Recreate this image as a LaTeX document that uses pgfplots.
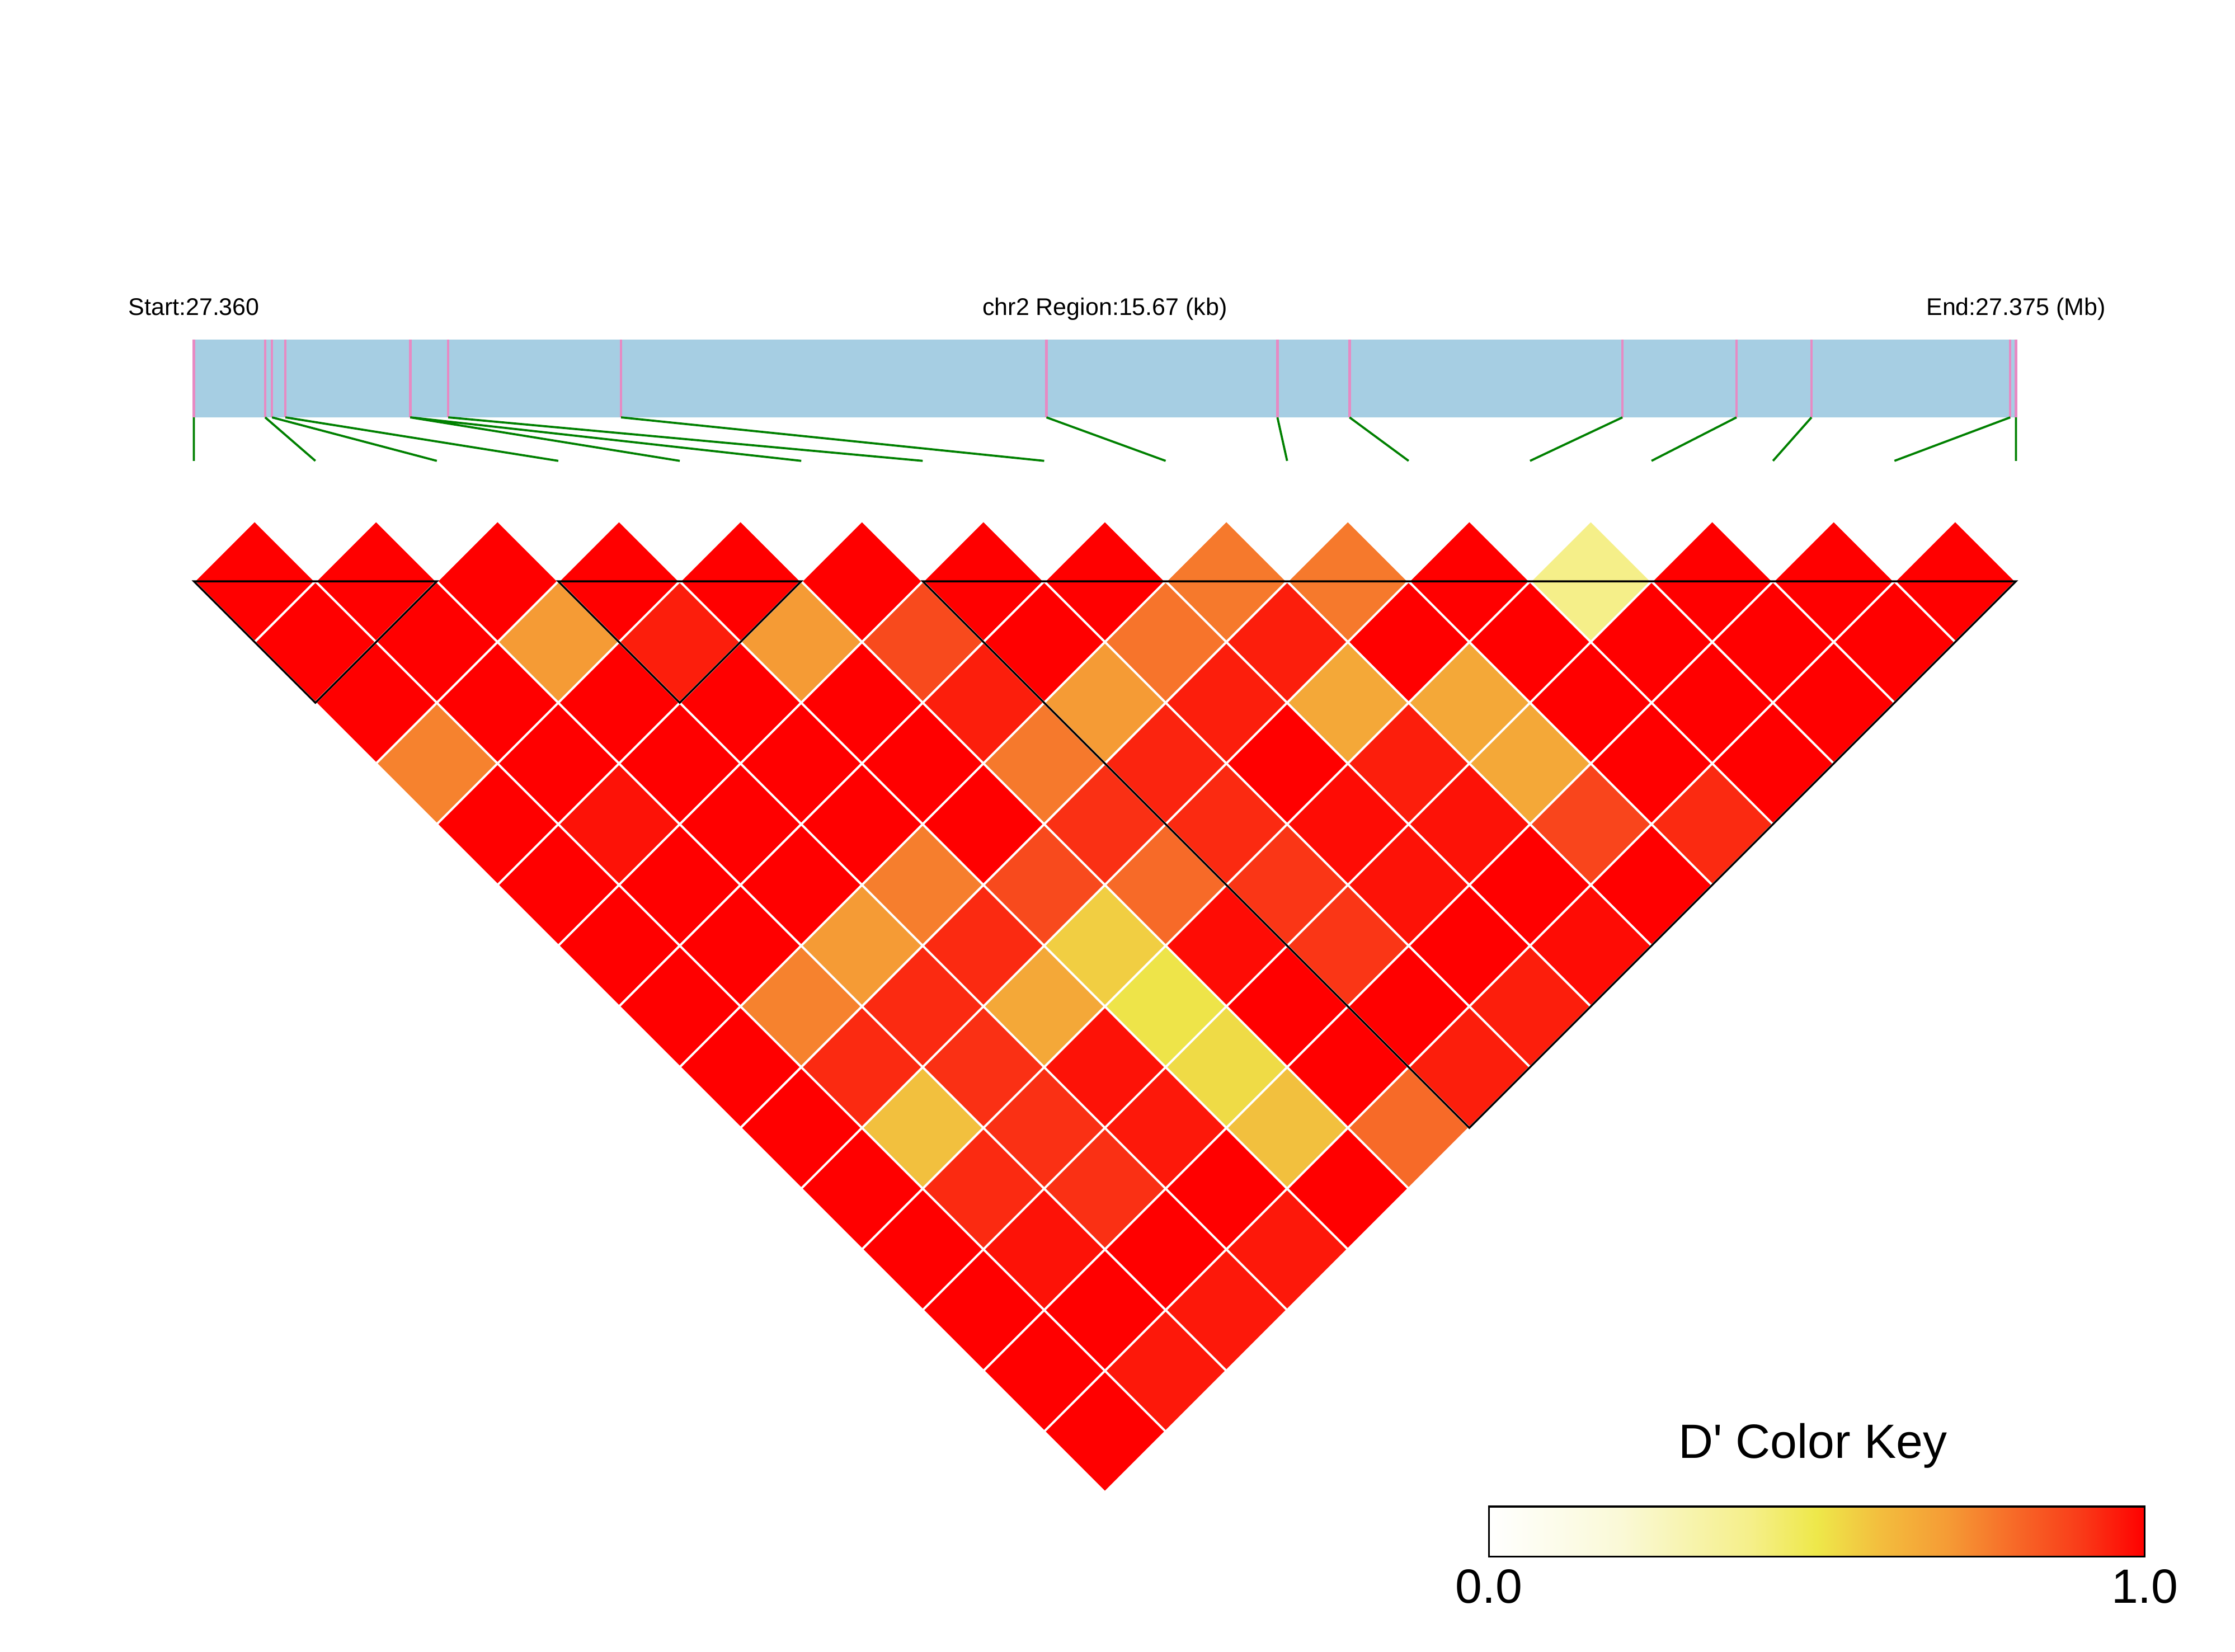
\documentclass[border=0pt]{standalone}
\usepackage{fontspec}
\setmainfont{Liberation Sans}
\newfontfamily\plainfam{Liberation Sans}
\usepackage{pgfplots}
\pgfplotsset{compat=1.18}
\usepackage{pgfplotstable}
\definecolor{barblue}{RGB}{166,206,227}
\definecolor{snppink}{RGB}{231,138,195}
\definecolor{lingreen}{RGB}{0,128,0}
\pgfplotsset{colormap={ld}{rgb255(0cm)=(255,255,255) rgb255(2cm)=(250,249,215) rgb255(4cm)=(245,239,137) rgb255(5cm)=(238,232,74) rgb255(6cm)=(243,188,61) rgb255(7cm)=(245,155,53) rgb255(8cm)=(247,106,40) rgb255(9cm)=(249,60,25) rgb255(10cm)=(255,0,0)}}
\pgfplotsset{pixframe/.style={
  at={(0,0)}, anchor=south west,
  x=0.02cm, y=0.02cm, y dir=reverse,
  xmin=0, xmax=1568, ymin=0, ymax=1159,
  hide axis, clip=false}}

% pairwise D' values: SNP i, SNP j, D'
\pgfplotstableread{
i j D
0 1 1
1 2 1
2 3 1
3 4 1
4 5 1
5 6 1
6 7 1
7 8 1
8 9 0.77
9 10 0.77
10 11 1
11 12 0.40
12 13 1
13 14 1
14 15 1
0 2 1
1 3 1
2 4 0.70
3 5 0.95
4 6 0.70
5 7 0.87
6 8 1
7 9 0.78
8 10 0.95
9 11 1
10 12 1
11 13 1
12 14 1
13 15 1
0 3 1
1 4 1
2 5 1
3 6 1
4 7 1
5 8 0.95
6 9 0.70
7 10 0.95
8 11 0.66
9 12 0.66
10 13 1
11 14 1
12 15 1
0 4 0.75
1 5 1
2 6 1
3 7 1
4 8 1
5 9 0.77
6 10 0.94
7 11 1
8 12 0.95
9 13 0.66
10 14 1
11 15 1
0 5 1
1 6 0.97
2 7 1
3 8 1
4 9 1
5 10 0.92
6 11 0.93
7 12 0.98
8 13 0.97
9 14 0.88
10 15 0.93
0 6 1
1 7 1
2 8 1
3 9 0.76
4 10 0.87
5 11 0.80
6 12 0.91
7 13 0.97
8 14 1
9 15 1
0 7 1
1 8 1
2 9 0.70
3 10 0.93
4 11 0.56
5 12 0.98
6 13 0.91
7 14 1
8 15 0.98
0 8 1
1 9 0.75
2 10 0.93
3 11 0.66
4 12 0.51
5 13 1
6 14 1
7 15 0.95
0 9 1
1 10 0.93
2 11 0.92
3 12 0.97
4 13 0.53
5 14 1
6 15 0.95
0 10 1
1 11 0.59
2 12 0.92
3 13 0.96
4 14 0.59
5 15 0.80
0 11 1
1 12 0.93
2 13 0.92
3 14 1
4 15 1
0 12 1
1 13 0.97
2 14 1
3 15 0.96
0 13 1
1 14 1
2 15 0.96
0 14 1
1 15 0.96
0 15 1
}\ldtable

\newcommand{\smallfont}{\fontsize{9.6}{11}\selectfont}
\newcommand{\keyfont}{\fontsize{19.2}{22}\selectfont}

\begin{document}
\begin{tikzpicture}
\useasboundingbox (0,0) rectangle (31.36cm,23.18cm);
\begin{axis}[pixframe, colormap name=ld, point meta min=0, point meta max=1]
% gene region bar
\addplot[draw=none, fill=barblue] coordinates {(136,238.5) (1414,238.5) (1414,293) (136,293) (136,238.5)};
% SNP positions
\addplot[snppink, line width=1pt, unbounded coords=jump] coordinates {
(136,238.5) (136,293) (nan,nan)
(186,238.5) (186,293) (nan,nan)
(190.8,238.5) (190.8,293) (nan,nan)
(200.2,238.5) (200.2,293) (nan,nan)
(287.7,238.5) (287.7,293) (nan,nan)
(288.0,238.5) (288.0,293) (nan,nan)
(314.4,238.5) (314.4,293) (nan,nan)
(435.6,238.5) (435.6,293) (nan,nan)
(734,238.5) (734,293) (nan,nan)
(896,238.5) (896,293) (nan,nan)
(946.6,238.5) (946.6,293) (nan,nan)
(1138,238.5) (1138,293) (nan,nan)
(1218,238.5) (1218,293) (nan,nan)
(1270.6,238.5) (1270.6,293) (nan,nan)
(1410,238.5) (1410,293) (nan,nan)
(1414,238.5) (1414,293)
};
% connector lines
\addplot[lingreen, line width=0.85pt, unbounded coords=jump] coordinates {
(136,293) (136,323.5) (nan,nan)
(186,293) (221.2,323.5) (nan,nan)
(190.8,293) (306.4,323.5) (nan,nan)
(200.2,293) (391.6,323.5) (nan,nan)
(287.7,293) (476.8,323.5) (nan,nan)
(288.0,293) (562,323.5) (nan,nan)
(314.4,293) (647.2,323.5) (nan,nan)
(435.6,293) (732.4,323.5) (nan,nan)
(734,293) (817.6,323.5) (nan,nan)
(896,293) (902.8,323.5) (nan,nan)
(946.6,293) (988,323.5) (nan,nan)
(1138,293) (1073.2,323.5) (nan,nan)
(1218,293) (1158.4,323.5) (nan,nan)
(1270.6,293) (1243.6,323.5) (nan,nan)
(1410,293) (1328.8,323.5) (nan,nan)
(1414,293) (1414,323.5)
};
% LD heatmap
\addplot[scatter, only marks, mark=square*, mark size=17.14pt,
  point meta=explicit,
  scatter/use mapped color={draw=white, fill=mapped color},
  mark options={rotate=45, line width=0.85pt}]
  table[x expr={136+42.6*(\thisrow{i}+\thisrow{j})},
        y expr={408+42.6*(\thisrow{j}-\thisrow{i}-1)},
        meta=D] {\ldtable};
% labels
\node[anchor=base, font=\smallfont, inner sep=0pt] at (axis cs:136,221.4) {Start:27.360};
\node[anchor=base, font=\smallfont, inner sep=0pt] at (axis cs:775,221.4) {chr2 Region:15.67 (kb)};
\node[anchor=base, font=\smallfont, inner sep=0pt] at (axis cs:1414,221.4) {End:27.375 (Mb)};
\end{axis}
% haplotype blocks, drawn over the heatmap in the same frame
\begin{axis}[pixframe]
\addplot[black, line width=0.75pt, line join=miter] coordinates {(136,408) (221.2,493.2) (306.4,408) (136,408) (221.2,493.2)};
\addplot[black, line width=0.75pt, line join=miter] coordinates {(391.6,408) (476.8,493.2) (562,408) (391.6,408) (476.8,493.2)};
\addplot[black, line width=0.75pt, line join=miter] coordinates {(647.2,408) (1030.6,791.4) (1414,408) (647.2,408) (1030.6,791.4)};
\end{axis}
% colour key
\begin{axis}[
  at={(20.89cm,1.34cm)}, anchor=south west,
  width=9.204cm, height=0.70cm, scale only axis,
  xmin=0, xmax=1, ymin=0, ymax=1,
  xtick={0,1}, xticklabels={0.0,1.0}, ytick=\empty,
  major tick length=0pt,
  axis line style={line width=0.7pt},
  xticklabel style={font=\keyfont, inner sep=0pt, yshift=-5pt},
  /pgf/number format/assume math mode=true,
  colormap name=ld, point meta min=0, point meta max=1,
  clip=false, axis on top,
]
\addplot[patch, patch type=rectangle, shader=interp, point meta=explicit]
  coordinates {(0,0) [0] (1,0) [1] (1,1) [1] (0,1) [0]};
\node[anchor=base, font=\keyfont\plainfam, inner sep=0pt, yshift=0.68cm] at (rel axis cs:0.494,1) {D' Color Key};
\end{axis}
\end{tikzpicture}
\end{document}
